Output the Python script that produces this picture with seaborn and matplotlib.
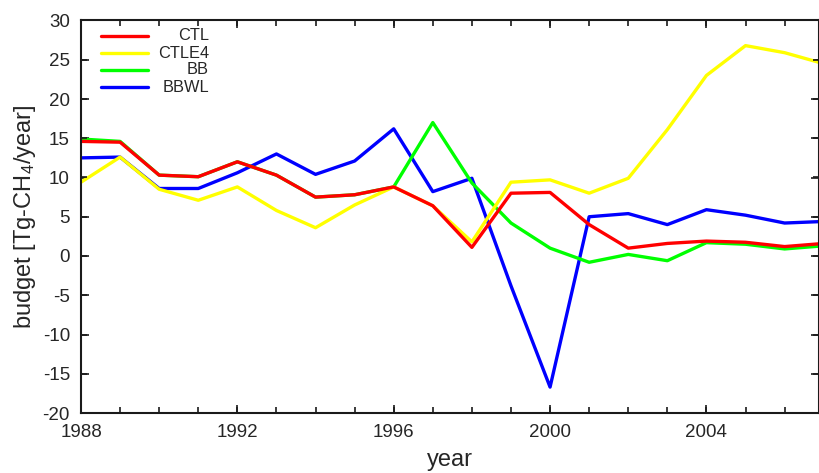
import numpy as np
import pandas as pd
import matplotlib
matplotlib.use("Agg")
import matplotlib.pyplot as plt
import matplotlib.transforms as mtransforms
import seaborn as sns
from matplotlib.lines import Line2D
from matplotlib.ticker import MultipleLocator

years = list(range(1988, 2008))
ctl =   [14.6, 14.5, 10.3, 10.1, 12.0, 10.3, 7.5, 7.8, 8.8, 6.4, 1.1, 8.0, 8.1, 4.0, 1.0, 1.6, 1.9, 1.75, 1.2, 1.6]
ctle4 = [9.4, 12.6, 8.5, 7.1, 8.8, 5.8, 3.6, 6.5, 8.8, 6.4, 1.8, 9.4, 9.7, 8.0, 9.9, 16.1, 23.0, 26.8, 25.9, 24.5]
bb =    [14.9, 14.6, 10.3, 10.1, 12.0, 10.3, 7.5, 7.8, 8.8, 17.0, 9.3, 4.2, 1.0, -0.8, 0.2, -0.6, 1.7, 1.5, 0.9, 1.3]
bbwl =  [12.5, 12.6, 8.6, 8.6, 10.6, 13.0, 10.4, 12.1, 16.2, 8.2, 9.9, -3.8, -16.7, 5.0, 5.4, 4.0, 5.9, 5.2, 4.2, 4.4]

series_names = ["CTL", "CTLE4", "BB", "BBWL"]
series_colors = {"CTL": "#ff0000", "CTLE4": "#ffff00", "BB": "#00ff00", "BBWL": "#0000ff"}
xtick_labels = ["1988", "1992", "1996", "2000", "2004"]

df = pd.DataFrame({"year": years, "CTL": ctl, "CTLE4": ctle4, "BB": bb, "BBWL": bbwl})
long = df.melt(id_vars="year", var_name="run", value_name="budget")

sns.set_style("ticks")
plt.rcParams["font.family"] = ["Liberation Sans", "DejaVu Sans"]
plt.rcParams["mathtext.fontset"] = "custom"
plt.rcParams["mathtext.rm"] = "Liberation Sans"
plt.rcParams["mathtext.it"] = "Liberation Sans"
plt.rcParams["axes.unicode_minus"] = False

fig = plt.figure(figsize=(8.19, 4.73), dpi=100)
ax = fig.add_axes([81 / 819, 1 - 413 / 473, 1 - 81 / 819, (413 - 20.5) / 473])

draw_order = ["BBWL", "BB", "CTLE4", "CTL"]
for name in draw_order:
    sub = long[long["run"] == name]
    sns.lineplot(data=sub, x="year", y="budget", color=series_colors[name],
                 linewidth=2.4, ax=ax, legend=False, zorder=2)

xmin, xmax = 1988, 2006.88
ymin, ymax = -20, 30
ax.set_xlim(xmin, xmax)
ax.set_ylim(ymin, ymax)
ax.set_xticks([int(t) for t in xtick_labels])
ax.set_xticklabels(xtick_labels)
ax.yaxis.set_major_locator(MultipleLocator(5))
ax.tick_params(axis="both", which="both", direction="in", top=True, right=True,
               length=6, width=1.2, color="#1a1a1a", labelsize=13.5, pad=8)
for s in ax.spines.values():
    s.set_linewidth(1.5)
    s.set_color("#1a1a1a")
ax.set_xlabel("year", fontsize=17, labelpad=6)
ax.set_ylabel("budget [Tg-CH$_4$/year]", fontsize=17, labelpad=3)

# explicit inward tick marks (every year on x, every 5 on y), on all four sides
tick_len_x = 6 / 392.5
tick_len_y = 6 / 738
xt = [y for y in years if xmin <= y <= xmax]
yt = list(np.arange(ymin, ymax + 1, 5))
bx = mtransforms.blended_transform_factory(ax.transData, ax.transAxes)
by = mtransforms.blended_transform_factory(ax.transAxes, ax.transData)
ax.vlines(xt, 0, tick_len_x, transform=bx, colors="#1a1a1a", linewidth=1.2, zorder=4, clip_on=False)
ax.vlines(xt, 1 - tick_len_x, 1, transform=bx, colors="#1a1a1a", linewidth=1.2, zorder=4, clip_on=False)
ax.hlines(yt, 0, tick_len_y, transform=by, colors="#1a1a1a", linewidth=1.2, zorder=4, clip_on=False)
ax.hlines(yt, 1 - tick_len_y, 1, transform=by, colors="#1a1a1a", linewidth=1.2, zorder=4, clip_on=False)
ax.set_xlim(xmin, xmax)
ax.set_ylim(ymin, ymax)

# gnuplot-style key: line sample on the left, labels right-aligned
leg_y0 = 1 - (36 - 20.5) / 392.5
dy = 17 / 392.5
for i, name in enumerate(series_names):
    yy = leg_y0 - i * dy
    ax.add_line(Line2D([(101 - 81) / 738, (148 - 81) / 738], [yy, yy], transform=ax.transAxes,
                       color=series_colors[name], linewidth=2.4, zorder=5))
    ax.text((209 - 81) / 738, yy, name, transform=ax.transAxes, ha="right", va="center",
            fontsize=11.8, zorder=5)

fig.savefig("out.png", dpi=100)
